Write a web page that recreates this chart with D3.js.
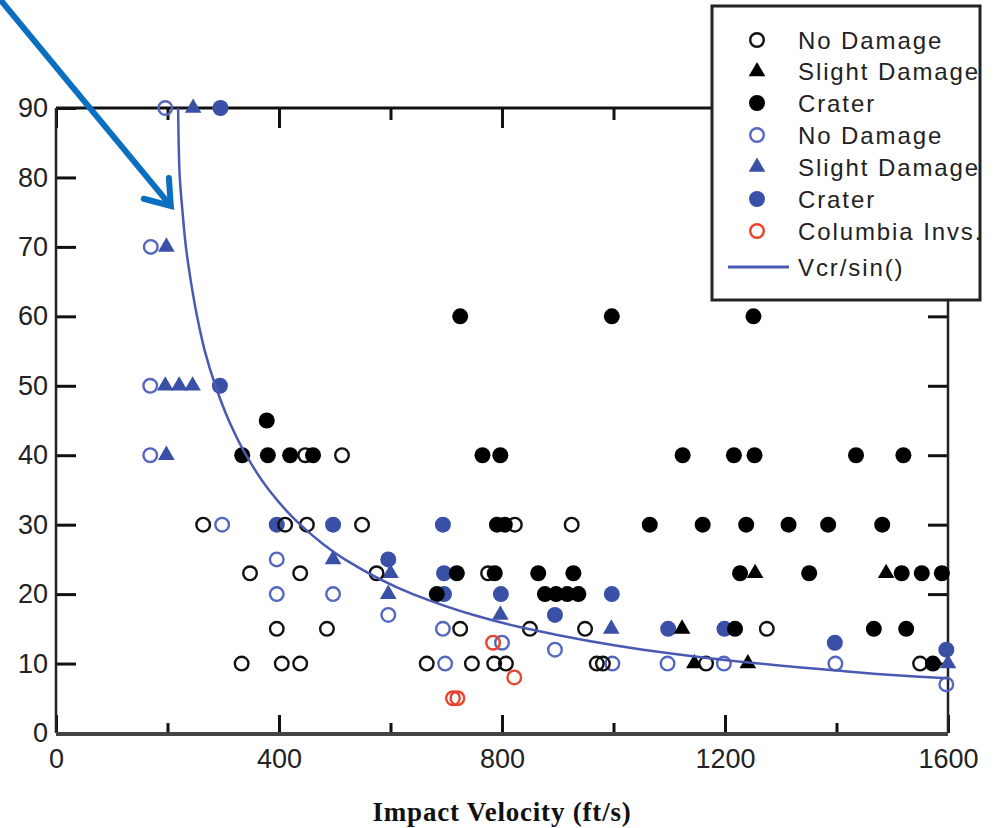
<!DOCTYPE html>
<html>
<head>
<meta charset="utf-8">
<script src="https://cdn.jsdelivr.net/npm/d3@7/dist/d3.min.js"></script>
<style>
  body { margin: 0; background: #fff; }
  svg { display: block; }
</style>
</head>
<body>
<script>
// Canvas setup
const canvasWidth = 994;
const canvasHeight = 828;

// Data: [impact velocity (ft/s), angle (deg)]
const blackNoDamage = [
  [264, 30], [411, 30], [450, 30], [549, 30], [823, 30], [925, 30],
  [447, 40], [513, 40],
  [348, 23], [438, 23], [575, 23], [775, 23],
  [396, 15], [486, 15], [725, 15], [850, 15], [949, 15], [1275, 15],
  [333, 10], [405, 10], [438, 10], [665, 10], [746, 10], [786, 10], [807, 10],
  [970, 10], [981, 10], [1166, 10], [1550, 10]
];
const blackSlight = [[1254, 23], [1489, 23], [1123, 15], [1145, 10], [1241, 10]];
const blackCrater = [
  [725, 60], [997, 60], [1251, 60],
  [378, 45],
  [334, 40], [380, 40], [420, 40], [461, 40], [765, 40], [797, 40],
  [1124, 40], [1216, 40], [1253, 40], [1435, 40], [1520, 40],
  [791, 30], [805, 30], [1065, 30], [1160, 30], [1238, 30], [1314, 30], [1385, 30], [1482, 30],
  [719, 23], [787, 23], [865, 23], [928, 23], [1227, 23], [1351, 23], [1517, 23], [1553, 23], [1589, 23],
  [683, 20], [877, 20], [897, 20], [917, 20], [937, 20],
  [1218, 15], [1467, 15], [1525, 15],
  [1573, 10]
];
const blueNoDamage = [
  [196, 90], [170, 70], [169, 50], [169, 40], [298, 30], [396, 25], [396, 20], [497, 20],
  [596, 17], [694, 15], [800, 13], [895, 12], [698, 10], [998, 10], [1097, 10],
  [1198, 10], [1398, 10], [1597, 7]
];
const blueSlight = [
  [246, 90], [198, 70], [196, 50], [221, 50], [245, 50], [198, 40], [497, 25],
  [600, 23], [596, 20], [797, 17], [996, 15], [1600, 10]
];
const blueCrater = [
  [295, 90], [294, 50], [396, 30], [497, 30], [694, 30], [596, 25], [696, 23], [696, 20],
  [798, 20], [895, 17], [997, 20], [1098, 15], [1199, 15], [1397, 13], [1597, 12]
];
const columbia = [[784, 13], [822, 8], [712, 5], [720, 5]];

// Vcr/sin(theta) curve
const curveAngle = [90, 85, 80, 75, 70, 65, 60, 55, 50, 45, 40, 35, 30, 25, 20, 17, 15, 12, 10, 9, 8, 7.9];
const curveVelocity = [219, 220, 222, 227, 233, 242, 253, 267, 286, 310, 341, 382, 438, 518, 640, 749, 846, 1053, 1261, 1400, 1574, 1600];

const xMajorTicks = [0, 400, 800, 1200, 1600];
const xMinorTicks = [200, 600, 1000, 1400];
const yTicks = [0, 10, 20, 30, 40, 50, 60, 70, 80, 90];

const legendLabels = ["No Damage", "Slight Damage", "Crater", "No Damage", "Slight Damage", "Crater", "Columbia Invs.", "Vcr/sin()"];

// arrow annotation, in data units
const arrowFrom = [-100, 105.6];
const arrowTo = [206, 75.9];

// colours
const black = "#000";
const blueFill = "#3a4fa6";
const blueLine = "#5667bf";
const red = "#e8432d";
const curveColor = "#4a5ab2";
const arrowColor = "#0a6fbf";

const svg = d3.select('body')
  .append('svg')
  .attr('width', canvasWidth)
  .attr('height', canvasHeight);

const plot = { left: 56, right: 948, top: 108, bottom: 733 };

let xScale = d3.scaleLinear().domain([0, 1600]).range([plot.left, plot.right]);
let yScale = d3.scaleLinear().domain([0, 90]).range([plot.bottom, plot.top]);

const tickFont = "27px 'Liberation Sans', Arial, sans-serif";

function styleAxis(g, showText) {
  g.select('.domain').remove();
  g.selectAll('.tick line').attr('stroke', '#111').attr('stroke-width', 3);
  if (showText) {
    g.selectAll('.tick text').style('font', tickFont).attr('fill', '#222');
  } else {
    g.selectAll('.tick text').remove();
  }
}

// axes: ticks point inward
svg.append('g')
  .attr('transform', `translate(${plot.left},0)`)
  .call(d3.axisLeft(yScale).tickValues(yTicks).tickSize(-20).tickPadding(8).tickFormat(d3.format('d')))
  .call(g => styleAxis(g, true));

svg.append('g')
  .attr('transform', `translate(${plot.right},0)`)
  .call(d3.axisRight(yScale).tickValues(yTicks).tickSize(-20))
  .call(g => styleAxis(g, false));

svg.append('g')
  .attr('transform', `translate(0,${plot.bottom})`)
  .call(d3.axisBottom(xScale).tickValues(xMajorTicks).tickSize(-18).tickPadding(16).tickFormat(d3.format('d')))
  .call(g => styleAxis(g, true));

svg.append('g')
  .attr('transform', `translate(0,${plot.bottom})`)
  .call(d3.axisBottom(xScale).tickValues(xMinorTicks).tickSize(-10))
  .call(g => styleAxis(g, false));

svg.append('g')
  .attr('transform', `translate(0,${plot.top})`)
  .call(d3.axisTop(xScale).tickValues(xMajorTicks).tickSize(-20))
  .call(g => styleAxis(g, false));

svg.append('g')
  .attr('transform', `translate(0,${plot.top})`)
  .call(d3.axisTop(xScale).tickValues(xMinorTicks).tickSize(-12))
  .call(g => styleAxis(g, false));

// frame
svg.append('line').attr('x1', plot.left).attr('x2', plot.right).attr('y1', plot.top).attr('y2', plot.top)
  .attr('stroke', '#111').attr('stroke-width', 3);
svg.append('line').attr('x1', plot.left).attr('x2', plot.left).attr('y1', plot.top).attr('y2', plot.bottom)
  .attr('stroke', '#222').attr('stroke-width', 2.5);
svg.append('line').attr('x1', plot.right).attr('x2', plot.right).attr('y1', plot.top).attr('y2', plot.bottom)
  .attr('stroke', '#222').attr('stroke-width', 2.5);
svg.append('line').attr('x1', plot.left).attr('x2', plot.right).attr('y1', plot.bottom + 1).attr('y2', plot.bottom + 1)
  .attr('stroke', '#444').attr('stroke-width', 4);

// x title
svg.append('text')
  .attr('x', (plot.left + plot.right) / 2)
  .attr('y', 821)
  .attr('text-anchor', 'middle')
  .style('font', "bold 27px 'Liberation Serif', 'Times New Roman', serif")
  .style('letter-spacing', '0.8px')
  .attr('fill', '#111')
  .text('Impact Velocity (ft/s)');

// markers
const pts = svg.append('g').classed('points', true);
const triangle = d3.symbol().type(d3.symbolTriangle).size(120);

function openCircles(data, color) {
  pts.append('g').selectAll('circle').data(data).join('circle')
    .attr('cx', d => xScale(d[0])).attr('cy', d => yScale(d[1]))
    .attr('r', 6.8).attr('fill', 'none').attr('stroke', color).attr('stroke-width', 2.4);
}
function filledCircles(data, color) {
  pts.append('g').selectAll('circle').data(data).join('circle')
    .attr('cx', d => xScale(d[0])).attr('cy', d => yScale(d[1]))
    .attr('r', 8).attr('fill', color);
}
function triangles(data, color) {
  pts.append('g').selectAll('path').data(data).join('path')
    .attr('d', triangle)
    .attr('transform', d => `translate(${xScale(d[0])},${yScale(d[1])})`)
    .attr('fill', color);
}

openCircles(blueNoDamage, blueLine);
triangles(blueSlight, blueFill);
filledCircles(blueCrater, blueFill);
openCircles(blackNoDamage, '#111');
triangles(blackSlight, black);
filledCircles(blackCrater, black);
openCircles(columbia, red);

// critical velocity curve
let curveFn = d3.line()
  .x(d => xScale(d[0]))
  .y(d => yScale(d[1]))
  .curve(d3.curveMonotoneY);

svg.append('path')
  .attr('d', curveFn(curveVelocity.map((v, i) => [v, curveAngle[i]])))
  .attr('fill', 'none')
  .attr('stroke', curveColor)
  .attr('stroke-width', 2.5);

// arrow annotation
const ax0 = xScale(arrowFrom[0]), ay0 = yScale(arrowFrom[1]);
const ax1 = xScale(arrowTo[0]), ay1 = yScale(arrowTo[1]);
const ang = Math.atan2(ay1 - ay0, ax1 - ax0);
const wing = 28, spread = 0.62;
svg.append('line')
  .attr('x1', ax0).attr('y1', ay0).attr('x2', ax1 - 3 * Math.cos(ang)).attr('y2', ay1 - 3 * Math.sin(ang))
  .attr('stroke', arrowColor).attr('stroke-width', 6);
svg.append('path')
  .attr('d', `M${ax1 - wing * Math.cos(ang - spread)},${ay1 - wing * Math.sin(ang - spread)}`
    + `L${ax1},${ay1}`
    + `L${ax1 - wing * Math.cos(ang + spread)},${ay1 - wing * Math.sin(ang + spread)}`)
  .attr('fill', 'none')
  .attr('stroke', arrowColor).attr('stroke-width', 6)
  .attr('stroke-linejoin', 'miter').attr('stroke-linecap', 'round');

// legend
const legend = { x: 712, y: 6, w: 268, h: 294 };
svg.append('clipPath').attr('id', 'legclip')
  .append('rect').attr('x', legend.x).attr('y', legend.y).attr('width', legend.w).attr('height', legend.h);

const lg = svg.append('g');
lg.append('rect')
  .attr('x', legend.x).attr('y', legend.y).attr('width', legend.w).attr('height', legend.h)
  .attr('fill', '#fff');

const legendRows = [40, 71.5, 103, 135, 167, 199, 231, 267];
const legendStyles = [
  { kind: 'open', color: '#111' },
  { kind: 'tri', color: black },
  { kind: 'fill', color: black },
  { kind: 'open', color: blueLine },
  { kind: 'tri', color: blueFill },
  { kind: 'fill', color: blueFill },
  { kind: 'open', color: red },
  { kind: 'line', color: curveColor }
];

const items = lg.append('g').attr('clip-path', 'url(#legclip)');
legendLabels.forEach((label, i) => {
  const y = legendRows[i];
  const s = legendStyles[i];
  const sx = 757;
  if (s.kind === 'open') {
    items.append('circle').attr('cx', sx).attr('cy', y).attr('r', 6.8)
      .attr('fill', 'none').attr('stroke', s.color).attr('stroke-width', 2.4);
  } else if (s.kind === 'fill') {
    items.append('circle').attr('cx', sx).attr('cy', y).attr('r', 8).attr('fill', s.color);
  } else if (s.kind === 'tri') {
    items.append('path').attr('d', triangle).attr('transform', `translate(${sx},${y})`).attr('fill', s.color);
  } else {
    items.append('line').attr('x1', 728).attr('x2', 789).attr('y1', y).attr('y2', y)
      .attr('stroke', s.color).attr('stroke-width', 3);
  }
  items.append('text')
    .attr('x', 798).attr('y', y)
    .attr('dominant-baseline', 'central')
    .style('font', "24px 'Liberation Sans', Arial, sans-serif")
    .style('letter-spacing', '1.9px')
    .attr('fill', '#222')
    .text(label);
});

lg.append('rect')
  .attr('x', legend.x).attr('y', legend.y).attr('width', legend.w).attr('height', legend.h)
  .attr('fill', 'none').attr('stroke', '#222').attr('stroke-width', 3);
</script>
</body>
</html>
